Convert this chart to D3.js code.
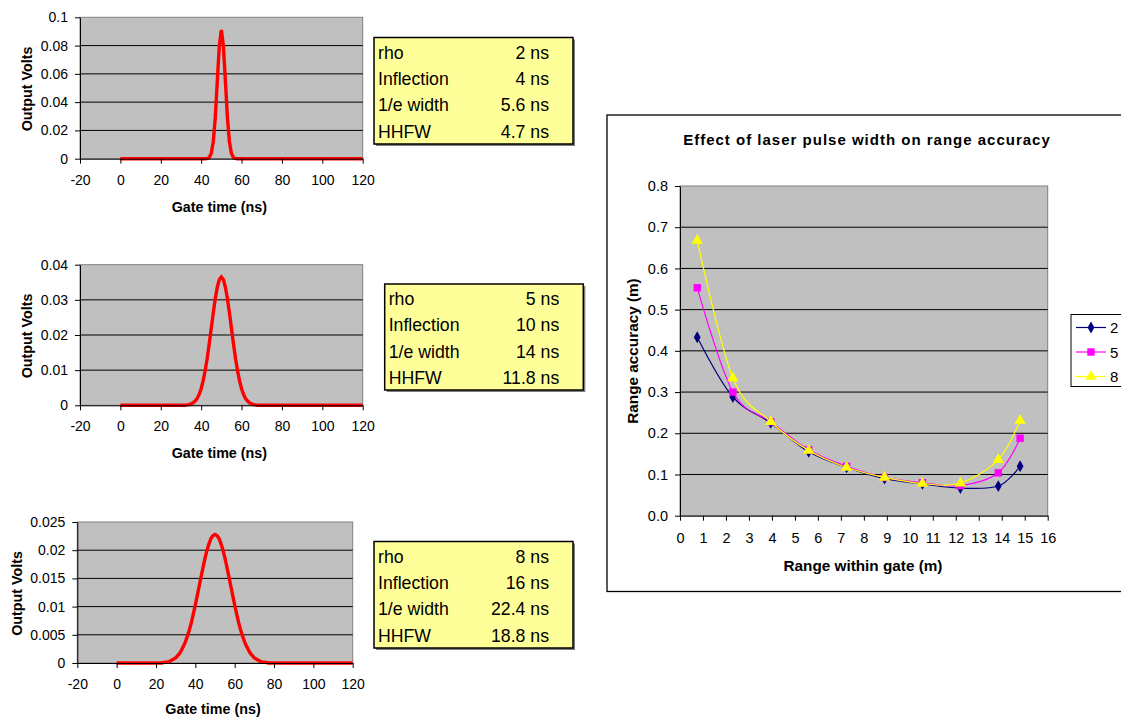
<!DOCTYPE html>
<html><head><meta charset="utf-8">
<script src="https://cdn.jsdelivr.net/npm/d3@7"></script>
<style>
html,body{margin:0;padding:0;background:#fff;}
svg{display:block;font-family:"Liberation Sans",Arial,sans-serif;}
</style></head>
<body>
<svg id="c" width="1121" height="717"></svg>
<script>
// ---------- data ----------
const pulseXTicks = [-20, 0, 20, 40, 60, 80, 100, 120];
const pulse1YTicks = [0, 0.02, 0.04, 0.06, 0.08, 0.1];
const pulse2YTicks = [0, 0.01, 0.02, 0.03, 0.04];
const pulse3YTicks = [0, 0.005, 0.01, 0.015, 0.02, 0.025];

const pulse1Time  = [0, 42, 43, 44, 45, 46, 47, 48, 49, 50, 51, 52, 53, 54, 55, 56, 57, 58, 120];
const pulse1Volts = [0, 0, 0.0002, 0.0009, 0.0037, 0.012, 0.029, 0.055, 0.080, 0.091, 0.080, 0.055, 0.029, 0.012, 0.0037, 0.0009, 0.0002, 0, 0];

const pulse2Time  = [0, 32, 33, 34, 35, 36, 37, 38, 39, 40, 41, 42, 43, 44, 45, 46, 47, 48, 49, 50,
                     51, 52, 53, 54, 55, 56, 57, 58, 59, 60, 61, 62, 63, 64, 65, 66, 67, 68, 120];
const pulse2Volts = [0, 0, 0.0001, 0.0002, 0.0004, 0.0007, 0.0012, 0.0019, 0.0031, 0.0047, 0.0070, 0.0099, 0.0134, 0.0175, 0.0219, 0.0263, 0.0304, 0.0336, 0.0358, 0.0365,
                     0.0358, 0.0336, 0.0304, 0.0263, 0.0219, 0.0175, 0.0134, 0.0099, 0.0070, 0.0047, 0.0031, 0.0019, 0.0012, 0.0007, 0.0004, 0.0002, 0.0001, 0, 0];

const pulse3Time  = [0, 23, 24, 25, 26, 27, 28, 29, 30, 31, 32, 33, 34, 35, 36, 37, 38, 39, 40, 41, 42, 43, 44, 45, 46, 47, 48, 49, 50,
                     51, 52, 53, 54, 55, 56, 57, 58, 59, 60, 61, 62, 63, 64, 65, 66, 67, 68, 69, 70, 71, 72, 73, 74, 75, 76, 77, 120];
const pulse3Volts = [0, 0, 0.0001, 0.00016, 0.0002, 0.0003, 0.0005, 0.0007, 0.0009, 0.0013, 0.0017, 0.0023, 0.0030, 0.0038, 0.0048, 0.0059, 0.0072, 0.0087, 0.0103, 0.0120, 0.0137, 0.0154, 0.0171, 0.0187, 0.0201, 0.0212, 0.0221, 0.0226, 0.0228,
                     0.0226, 0.0221, 0.0212, 0.0201, 0.0187, 0.0171, 0.0154, 0.0137, 0.0120, 0.0103, 0.0087, 0.0072, 0.0059, 0.0048, 0.0038, 0.0030, 0.0023, 0.0017, 0.0013, 0.0009, 0.0007, 0.0005, 0.0003, 0.0002, 0.00016, 0.0001, 0, 0];

const infoLabels = ["rho", "Inflection", "1/e width", "HHFW"];
const info1Values = ["2 ns", "4 ns", "5.6 ns", "4.7 ns"];
const info2Values = ["5 ns", "10 ns", "14 ns", "11.8 ns"];
const info3Values = ["8 ns", "16 ns", "22.4 ns", "18.8 ns"];

const rangeWithinGate = [0.75, 2.3, 3.95, 5.6, 7.25, 8.9, 10.55, 12.2, 13.85, 14.8];
const accuracy2 = [0.433, 0.288, 0.225, 0.155, 0.117, 0.090, 0.077, 0.067, 0.072, 0.120];
const accuracy5 = [0.553, 0.300, 0.228, 0.160, 0.120, 0.093, 0.080, 0.073, 0.104, 0.188];
const accuracy8 = [0.668, 0.334, 0.228, 0.158, 0.117, 0.093, 0.078, 0.079, 0.136, 0.231];
const seriesNames = ["2", "5", "8"];
const rangeXTicks = [0, 1, 2, 3, 4, 5, 6, 7, 8, 9, 10, 11, 12, 13, 14, 15, 16];
const rangeYTicks = [0, 0.1, 0.2, 0.3, 0.4, 0.5, 0.6, 0.7, 0.8];

// ---------- drawing ----------
const svg = d3.select("#c");
const FONT = '"Liberation Sans",Arial,sans-serif';

function pulseChart(box, yTicks, time, volts, titleX, titleDy) {
  const x = d3.scaleLinear().domain([-20, 120]).range([box.L, box.R]);
  const y = d3.scaleLinear().domain([0, yTicks[yTicks.length - 1]]).range([box.B, box.T]);
  const g = svg.append("g");
  g.append("rect").attr("x", box.L).attr("y", box.T).attr("width", box.R - box.L).attr("height", box.B - box.T)
    .attr("fill", "#c0c0c0").attr("stroke", "#808080").attr("stroke-width", 1);
  g.selectAll("line.grid").data(yTicks.slice(1, -1)).join("line").attr("class", "grid")
    .attr("x1", box.L).attr("x2", box.R).attr("y1", d => y(d)).attr("y2", d => y(d))
    .attr("stroke", "#000").attr("stroke-width", 1);
  const line = d3.line().x((d, i) => x(time[i])).y(d => y(d));
  g.append("path").datum(volts).attr("d", line).attr("fill", "none")
    .attr("stroke", "#ff0000").attr("stroke-width", 3.4).attr("stroke-linejoin", "miter");
  const ya = g.append("g").attr("transform", `translate(${box.L},0)`)
    .call(d3.axisLeft(y).tickValues(yTicks).tickFormat(d => String(d)).tickSize(5).tickSizeOuter(0).tickPadding(7));
  const xa = g.append("g").attr("transform", `translate(0,${box.B})`)
    .call(d3.axisBottom(x).tickValues(pulseXTicks).tickFormat(d => String(d)).tickSize(5).tickSizeOuter(0).tickPadding(11));
  [ya, xa].forEach(a => {
    a.selectAll("text").attr("font-family", FONT).attr("font-size", 14).attr("fill", "#000");
    a.selectAll("line,path").attr("stroke", "#000");
  });
  g.append("text").attr("x", (box.L + box.R) / 2 - 2).attr("y", box.B + titleDy).attr("text-anchor", "middle")
    .attr("font-family", FONT).attr("font-weight", "bold").attr("font-size", 14.3).text("Gate time (ns)");
  g.append("text").attr("transform", `translate(${titleX},${(box.T + box.B) / 2 + 1}) rotate(-90)`)
    .attr("text-anchor", "middle").attr("dominant-baseline", "central")
    .attr("font-family", FONT).attr("font-weight", "bold").attr("font-size", 14.3).text("Output Volts");
}

function infoBox(bx, values) {
  const g = svg.append("g");
  g.append("rect").attr("x", bx.x + 2).attr("y", bx.y + 2).attr("width", bx.w).attr("height", bx.h).attr("fill", "#808080");
  g.append("rect").attr("x", bx.x).attr("y", bx.y).attr("width", bx.w).attr("height", bx.h)
    .attr("fill", "#ffff99").attr("stroke", "#000").attr("stroke-width", 1.5);
  const rowY = d3.scaleBand().domain(d3.range(infoLabels.length)).range([bx.y + 2, bx.y + bx.h + 1]);
  g.selectAll("text.l").data(infoLabels).join("text").attr("class", "l")
    .attr("x", bx.x + 4).attr("y", (d, i) => rowY(i) + rowY.bandwidth() / 2 + 6)
    .attr("font-family", FONT).attr("font-size", 17.7).text(d => d);
  g.selectAll("text.v").data(values).join("text").attr("class", "v")
    .attr("x", bx.x + bx.w - 24).attr("y", (d, i) => rowY(i) + rowY.bandwidth() / 2 + 6)
    .attr("text-anchor", "end").attr("font-family", FONT).attr("font-size", 17.7).text(d => d);
}

pulseChart({L: 80, R: 362.7, T: 17.3, B: 158.7}, pulse1YTicks, pulse1Time, pulse1Volts, 26.5, 53);
pulseChart({L: 80, R: 362.7, T: 264.7, B: 405.3}, pulse2YTicks, pulse2Time, pulse2Volts, 26.5, 52.5);
pulseChart({L: 77.3, R: 352.7, T: 522, B: 663}, pulse3YTicks, pulse3Time, pulse3Volts, 16.5, 50.5);

infoBox({x: 374, y: 37.5, w: 199, h: 106.5}, info1Values);
infoBox({x: 384.7, y: 284, w: 198.6, h: 106}, info2Values);
infoBox({x: 374, y: 541.5, w: 199, h: 106.5}, info3Values);

// ---------- right chart ----------
(function () {
  const g = svg.append("g");
  g.append("rect").attr("x", 607).attr("y", 115).attr("width", 530).attr("height", 476.5)
    .attr("fill", "#fff").attr("stroke", "#000").attr("stroke-width", 1.3);
  g.append("text").attr("x", 867).attr("y", 144.5).attr("text-anchor", "middle")
    .attr("font-family", FONT).attr("font-weight", "bold").attr("font-size", 15).attr("letter-spacing", 1)
    .text("Effect of laser pulse width on range accuracy");
  const P = {L: 680, R: 1047.7, T: 186, B: 515.7};
  const x = d3.scaleLinear().domain([0, 16]).range([P.L, P.R]);
  const y = d3.scaleLinear().domain([0, 0.8]).range([P.B, P.T]);
  g.append("rect").attr("x", P.L).attr("y", P.T).attr("width", P.R - P.L).attr("height", P.B - P.T)
    .attr("fill", "#c0c0c0").attr("stroke", "#808080");
  g.selectAll("line.grid").data(rangeYTicks.slice(1, -1)).join("line").attr("class", "grid")
    .attr("x1", P.L).attr("x2", P.R).attr("y1", d => y(d)).attr("y2", d => y(d)).attr("stroke", "#000");
  const ya = g.append("g").attr("transform", `translate(${P.L},0)`)
    .call(d3.axisLeft(y).tickValues(rangeYTicks).tickFormat(d3.format(".1f")).tickSize(5).tickSizeOuter(0).tickPadding(7));
  const xa = g.append("g").attr("transform", `translate(0,${P.B})`)
    .call(d3.axisBottom(x).tickValues(rangeXTicks).tickFormat(d => String(d)).tickSize(5).tickSizeOuter(0).tickPadding(12));
  [ya, xa].forEach(a => {
    a.selectAll("text").attr("font-family", FONT).attr("font-size", 14.5).attr("fill", "#000");
    a.selectAll("line,path").attr("stroke", "#000");
  });
  g.append("text").attr("x", 863).attr("y", 570.5).attr("text-anchor", "middle")
    .attr("font-family", FONT).attr("font-weight", "bold").attr("font-size", 15.3).text("Range within gate (m)");
  g.append("text").attr("transform", `translate(632,351) rotate(-90)`).attr("text-anchor", "middle")
    .attr("dominant-baseline", "central").attr("font-family", FONT).attr("font-weight", "bold").attr("font-size", 15.3)
    .text("Range accuracy (m)");

  const series = [
    {name: seriesNames[0], vals: accuracy2, color: "#000080", sym: d3.symbolDiamond, size: 40},
    {name: seriesNames[1], vals: accuracy5, color: "#ff00ff", sym: d3.symbolSquare, size: 55},
    {name: seriesNames[2], vals: accuracy8, color: "#ffff00", sym: d3.symbolTriangle, size: 55}
  ];
  const line = d3.line().x((d, i) => x(rangeWithinGate[i])).y(d => y(d)).curve(d3.curveCardinal.tension(0));
  series.forEach(s => {
    g.append("path").datum(s.vals).attr("d", line).attr("fill", "none").attr("stroke", s.color).attr("stroke-width", 1.2);
    g.selectAll(null).data(s.vals).join("path")
      .attr("transform", (d, i) => `translate(${x(rangeWithinGate[i])},${y(d)})`)
      .attr("d", d3.symbol().type(s.sym).size(s.size)).attr("fill", s.color);
  });
  // legend
  const lg = g.append("g");
  lg.append("rect").attr("x", 1071).attr("y", 314.5).attr("width", 70).attr("height", 72)
    .attr("fill", "#fff").attr("stroke", "#000").attr("stroke-width", 1);
  const ly = d3.scalePoint().domain(seriesNames).range([327.5, 376.5]);
  series.forEach(s => {
    const yy = ly(s.name);
    lg.append("line").attr("x1", 1076).attr("x2", 1106).attr("y1", yy).attr("y2", yy).attr("stroke", s.color).attr("stroke-width", 1.2);
    lg.append("path").attr("transform", `translate(1091,${yy})`).attr("d", d3.symbol().type(s.sym).size(s.size)).attr("fill", s.color);
    lg.append("text").attr("x", 1110).attr("y", yy + 5.5).attr("font-family", FONT).attr("font-size", 15).text(s.name);
  });
})();
</script>
</body></html>
